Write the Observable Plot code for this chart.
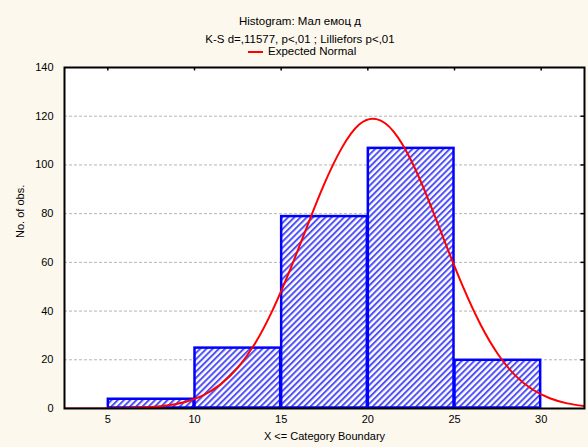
<!DOCTYPE html>
<html>
<head>
<meta charset="utf-8">
<script src="https://cdn.jsdelivr.net/npm/d3@7"></script>
<script src="https://cdn.jsdelivr.net/npm/@observablehq/plot@0.6"></script>
<style>
  html, body { margin: 0; padding: 0; background: #fcf8ee; }
  #wrap { position: relative; width: 588px; height: 447px; font-family: "Liberation Sans", Arial, sans-serif; font-size: 11px; color: #000; }
  .hdr { position: absolute; left: 0; width: 600px; text-align: center; line-height: 12px; white-space: nowrap; font-size: 11.5px; }
  #legend { position: absolute; top: 45px; left: 248px; white-space: nowrap; line-height: 12px; font-size: 11.5px; }
  #legend svg { vertical-align: middle; margin-right: 5px; }
</style>
</head>
<body>
<div id="wrap">
  <div class="hdr" style="top:15px">Histogram: Мал емоц д</div>
  <div class="hdr" style="top:33px">K-S d=,11577, p&lt;,01 ; Lilliefors p&lt;,01</div>
  <div id="legend"><svg width="15" height="6"><line x1="0" y1="3" x2="15" y2="3" stroke="#ff0000" stroke-width="2"/></svg>Expected Normal</div>
  <div id="chart"></div>
</div>
<script>
// Histogram bins (X <= category boundary)
const binStart = [5, 10, 15, 20, 25];
const binEnd   = [10, 15, 20, 25, 30];
const counts   = [4, 25, 79, 107, 20];

// Expected normal curve
const curveX = [2.5, 3.5, 4.5, 5.5, 6.5, 7.5, 8.5, 9.5, 10.5, 11.5, 12.5, 13.5, 14.5, 15.5, 16.5, 17.5, 18.5, 19.5, 20.5, 21.5, 22.5, 23.5, 24.5, 25.5, 26.5, 27.5, 28.5, 29.5, 30.5, 31.5, 32.5];
const curveY = [0.0, 0.0, 0.0, 0.1, 0.3, 0.6, 1.3, 2.8, 5.4, 9.9, 16.8, 26.8, 40.3, 56.7, 74.8, 92.4, 107, 116.6, 118.8, 113.6, 101.8, 85.6, 67.4, 49.8, 34.5, 22.4, 13.6, 7.8, 4.2, 2.1, 1.0];

const xTicks = [5, 10, 15, 20, 25, 30];
const yTicks = [0, 20, 40, 60, 80, 100, 120, 140];
const gridTicks = [20, 40, 60, 80, 100, 120];

const bins = binStart.map((s, i) => ({x1: s, x2: binEnd[i], y: counts[i]}));
const curve = curveX.map((x, i) => ({x, y: curveY[i]}));

const chart = Plot.plot({
  width: 588,
  height: 447,
  marginTop: 67,
  marginBottom: 39,
  marginLeft: 64,
  marginRight: 4,
  style: {background: "transparent", fontFamily: "'Liberation Sans', Arial, sans-serif", fontSize: "11px", color: "#000"},
  x: {domain: [2.5, 32.5]},
  y: {domain: [0, 140]},
  marks: [
    Plot.frame({fill: "white", stroke: "none"}),
    Plot.ruleY(gridTicks, {y: d => d, stroke: "#b4b4b4", strokeDasharray: "3,2", strokeWidth: 1}),
    Plot.rectY(bins, {x1: "x1", x2: "x2", y: "y", fill: "url(#hatch)", stroke: "#0000ff", strokeWidth: 2.5, inset: 0.5}),
    Plot.line(curve, {x: "x", y: "y", stroke: "#ff0000", strokeWidth: 2, curve: "natural", clip: true}),
    Plot.frame({stroke: "#000", strokeWidth: 2}),
    Plot.ruleX(xTicks, {x: d => d, y1: 140, y2: 138.6, stroke: "#000", strokeWidth: 1.5}),
    Plot.ruleY(yTicks.slice(1, -1), {y: d => d, x1: 32.5, x2: 32.3, stroke: "#000", strokeWidth: 1.5}),
    Plot.axisX({ticks: xTicks, tickSize: 0, tickPadding: 7, label: null}),
    Plot.axisY({ticks: yTicks, tickSize: 0, tickPadding: 11, label: null}),
    Plot.text(["X <= Category Boundary"], {frameAnchor: "bottom", dy: 31, text: d => d}),
    Plot.text(["No. of obs."], {frameAnchor: "left", dx: -44, rotate: -90, text: d => d})
  ]
});

// hatch pattern for bars
const svg = d3.select(chart);
const defs = svg.insert("defs", ":first-child");
const pat = defs.append("pattern")
  .attr("id", "hatch")
  .attr("patternUnits", "userSpaceOnUse")
  .attr("width", 4.4)
  .attr("height", 4.4)
  .attr("patternTransform", "rotate(45)");
pat.append("rect").attr("width", 4.4).attr("height", 4.4).attr("fill", "#ffffff");
pat.append("rect").attr("width", 2.0).attr("height", 4.4).attr("fill", "#5050f5");

document.getElementById("chart").appendChild(chart);
</script>
</body>
</html>
